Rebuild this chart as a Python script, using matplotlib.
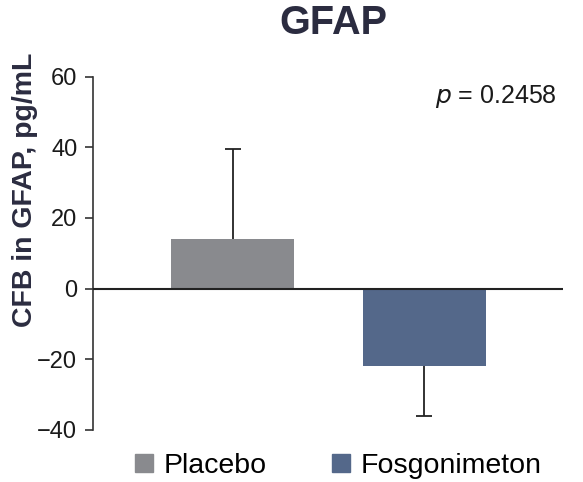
import matplotlib.pyplot as plt
import matplotlib.patches as mpatches

groups = ["Placebo", "Fosgonimeton"]
means = [14.0, -21.8]
errs = [25.4, 14.3]   # drawn on the side away from zero
colors = ["#898a8e", "#54688a"]
yticks = [-40, -20, 0, 20, 40, 60]
p_text = "0.2458"

plt.rcParams['font.family'] = ['Liberation Sans', 'DejaVu Sans']
dark = "#222222"
navy = "#2b2c40"

fig = plt.figure(figsize=(5.83, 4.82), dpi=100)
ax = fig.add_axes([0.160, 0.108, 0.806, 0.733])

x = list(range(len(groups)))
ax.bar(x, means, width=0.642, color=colors, zorder=2)

# one-sided error bars: stem + cap only at the far end
ends = [m + e if m > 0 else m - e for m, e in zip(means, errs)]
ax.vlines(x, means, ends, color=dark, lw=1.3, zorder=3)
ax.plot(x, ends, ls="none", marker="_", markersize=12, mew=1.3,
        color=dark, zorder=3)
ax.axhline(0, color=dark, lw=1.5, zorder=4)

ax.set_xlim(-0.727, 1.726)
ax.set_ylim(min(yticks), max(yticks))
ax.set_yticks(yticks)
ax.set_yticklabels([str(t).replace("-", "\u2212") for t in yticks])
ax.set_xticks([])
for s in ["top", "right", "bottom"]:
    ax.spines[s].set_visible(False)
ax.spines["left"].set_color("#333333")
ax.spines["left"].set_linewidth(1.2)
ax.tick_params(axis="y", length=6, width=1.2, color="#333333",
               labelsize=17, labelcolor="#1a1a1a", pad=5.5)

ax.set_ylabel("CFB in GFAP, pg/mL", fontsize=20.5, fontweight="bold",
              color=navy)
ax.yaxis.set_label_coords(-0.118, 0.679)
fig.text(333 / 583, 1 - 23 / 482, "GFAP", ha="center", va="center",
         fontsize=28.5, fontweight="bold", color=navy)

fig.text(557 / 583, 1 - 96 / 482, r"$\it{p}$ = " + p_text,
         ha="right", va="center", fontsize=18, color="#1a1a1a")

handles = [mpatches.Patch(color=c, label=g) for c, g in zip(colors, groups)]
fig.legend(handles=handles, loc="center left",
           bbox_to_anchor=(135 / 583, 1 - 466 / 482),
           ncol=2, frameon=False, fontsize=20.5, borderpad=0,
           borderaxespad=0, handlelength=0.64, handleheight=0.64,
           handletextpad=0.36, columnspacing=2.3)

fig.savefig("out.png", dpi=100)
